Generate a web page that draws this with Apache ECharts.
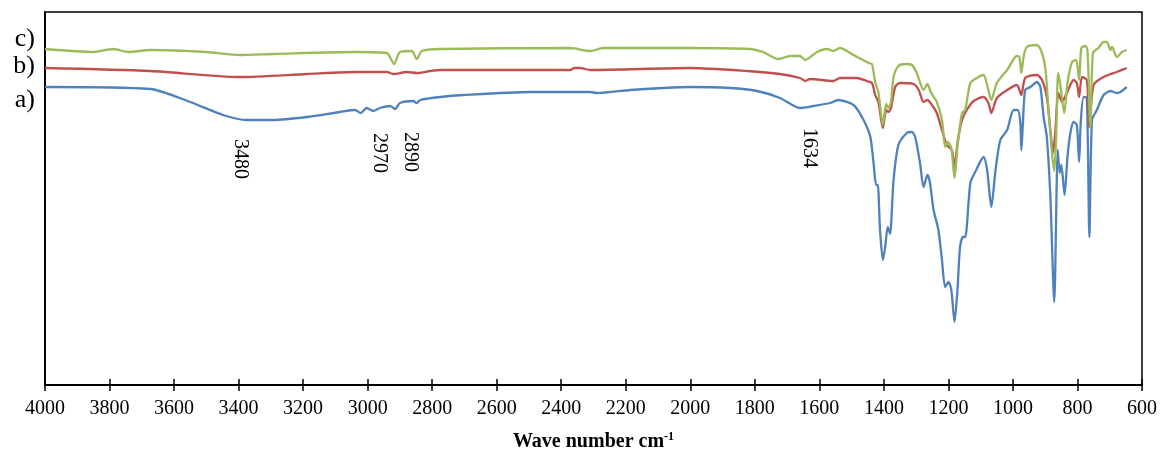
<!DOCTYPE html>
<html>
<head>
<meta charset="utf-8">
<script src="https://cdn.jsdelivr.net/npm/echarts@6/dist/echarts.min.js"></script>
<style>
html,body{margin:0;padding:0;background:#fff;}
#chart{width:1162px;height:457px;}
</style>
</head>
<body>
<div id="chart"></div>
<script>
// Wavenumber axis ticks
const xTicks = {min: 600, max: 4000, interval: 200};

// Series a) (blue) — [wavenumber, transmittance a.u.]
const seriesA = [
[4000,298],[3674,296],[3550,283],[3448,270],[3374,265],[3293,265],[3188,268],[3086,273],[3039,275],[3021,272],
[3003,277],[2982,274],[2962,277],[2930,279],[2915,276],[2900,282],[2859,284],[2848,282],[2837,285],[2775,288],
[2704,290],[2496,293],[2310,293],[2289,292],[2186,295],[2084,297],[2000,298],[1876,297],[1793,294],[1722,287],
[1660,277],[1619,279],[1567,282],[1542,285],[1494,280],[1463,265],[1442,248],[1432,222],[1424,200],[1419,200],
[1412,155],[1403,125],[1396,138],[1388,158],[1381,151],[1370,205],[1355,240],[1329,252],[1313,253],[1303,248],
[1288,222],[1277,198],[1265,210],[1257,202],[1246,175],[1231,155],[1220,125],[1210,98],[1200,103],[1191,95],
[1181,63],[1172,95],[1164,138],[1155,148],[1148,148],[1132,202],[1117,213],[1091,228],[1080,215],[1067,178],
[1054,215],[1039,245],[1018,255],[998,275],[985,275],[977,262],[974,235],[969,262],[962,295],[946,298],
[926,303],[915,298],[905,268],[895,248],[884,188],[872,83],[861,235],[855,212],[850,220],[840,190],
[831,228],[822,252],[812,263],[802,260],[795,223],[790,262],[781,288],[771,287],[763,148],[755,265],
[740,275],[719,290],[698,294],[678,292],[667,293],[647,298]
];

// Series b) (red)
const seriesB = [
[4000,317],[3674,314],[3396,308],[3188,311],[3033,313],[2940,313],[2921,311],[2878,313],[2847,312],[2806,314],
[2775,315],[2372,315],[2360,317],[2341,317],[2310,315],[2000,317],[1824,314],[1722,311],[1660,307],[1644,304],
[1629,306],[1557,304],[1536,307],[1484,307],[1453,304],[1437,302],[1427,290],[1417,283],[1403,257],[1393,275],
[1386,273],[1378,277],[1365,298],[1350,302],[1308,301],[1292,295],[1277,283],[1265,285],[1251,280],[1236,272],
[1220,255],[1205,240],[1189,235],[1181,217],[1172,242],[1158,265],[1143,275],[1122,284],[1091,288],[1076,282],
[1067,272],[1050,287],[1018,295],[988,300],[974,290],[962,307],[926,310],[910,305],[895,288],[884,255],
[876,232],[869,252],[859,292],[848,283],[833,292],[812,305],[802,302],[795,288],[786,308],[771,305],
[763,258],[750,300],[719,308],[678,313],[647,317]
];

// Series c) (green)
const seriesC = [
[4000,336],[3850,333],[3788,336],[3742,333],[3674,335],[3499,333],[3396,330],[3293,331],[3034,333],[2941,332],
[2918,321],[2900,333],[2863,334],[2848,326],[2832,334],[2775,336],[2372,337],[2310,334],[2270,337],[2000,337],
[1814,336],[1774,333],[1727,326],[1690,329],[1660,329],[1644,325],[1607,333],[1576,336],[1557,334],[1536,337],
[1494,330],[1447,322],[1437,321],[1427,303],[1417,293],[1403,260],[1393,281],[1386,277],[1378,283],[1370,308],
[1355,319],[1333,321],[1313,320],[1298,312],[1277,295],[1265,301],[1255,293],[1236,283],[1220,265],[1210,238],
[1202,243],[1191,237],[1181,207],[1172,238],[1158,272],[1148,275],[1132,302],[1112,307],[1091,310],[1080,300],
[1067,285],[1050,302],[1018,315],[988,329],[980,328],[974,312],[967,328],[957,338],[926,340],[910,332],
[899,315],[889,272],[879,232],[872,214],[866,248],[860,312],[853,300],[841,272],[831,302],[817,323],
[804,325],[795,305],[788,337],[776,339],[769,335],[760,258],[752,332],[735,337],[719,343],[709,343],
[698,335],[693,338],[678,328],[662,333],[647,335]
];

const seriesLabels = ['a)', 'b)', 'c)'];
const peakLabels = ['3480', '2970', '2890', '1634'];

const SERIF = '"Liberation Serif","Times New Roman",serif';
const chart = echarts.init(document.getElementById('chart'));

function baseX(extra) {
  return Object.assign({
    type: 'value', inverse: true,
    min: xTicks.min, max: xTicks.max, interval: xTicks.interval,
    position: 'bottom',
    splitLine: {show: false}
  }, extra);
}

chart.setOption({
  animation: false,
  grid: {left: 45, right: 20, top: 12, bottom: 72, show: true, borderColor: '#000', borderWidth: 1.5, backgroundColor: 'transparent'},
  xAxis: [
    baseX({
      axisLine: {show: true, lineStyle: {color: '#000', width: 2}},
      axisTick: {show: false},
      axisLabel: {margin: 14, color: '#000', fontFamily: SERIF, fontSize: 20, formatter: function (v) { return String(v); }},
      name: '{t|Wave number cm}{s|-1}',
      nameLocation: 'middle',
      nameGap: 46,
      nameTextStyle: {
        rich: {
          t: {fontFamily: SERIF, fontSize: 20, fontWeight: 'bold', color: '#000', lineHeight: 22},
          s: {fontFamily: SERIF, fontSize: 12, fontWeight: 'bold', color: '#000', verticalAlign: 'top', lineHeight: 22}
        }
      }
    }),
    baseX({
      offset: -6,
      axisLine: {show: false},
      axisTick: {show: true, inside: false, length: 12, lineStyle: {color: '#000', width: 1.5}},
      axisLabel: {show: false}
    })
  ],
  yAxis: {
    type: 'value', min: 0, max: 373,
    axisLine: {show: true, lineStyle: {color: '#000', width: 2}},
    axisTick: {show: false}, axisLabel: {show: false}, splitLine: {show: false}
  },
  series: [
    {name: 'a)', type: 'line', data: seriesA, showSymbol: false, smooth: 0.25, lineStyle: {color: '#4F81BD', width: 2.3}, itemStyle: {color: '#4F81BD'}},
    {name: 'b)', type: 'line', data: seriesB, showSymbol: false, smooth: 0.25, lineStyle: {color: '#C0504D', width: 2.3}, itemStyle: {color: '#C0504D'}},
    {name: 'c)', type: 'line', data: seriesC, showSymbol: false, smooth: 0.25, lineStyle: {color: '#9BBB59', width: 2.3}, itemStyle: {color: '#9BBB59'}}
  ],
  graphic: [
    {type: 'text', x: 35, y: 39, style: {text: seriesLabels[2], fontFamily: SERIF, fontSize: 26, fill: '#000', align: 'right', verticalAlign: 'middle'}},
    {type: 'text', x: 35, y: 66, style: {text: seriesLabels[1], fontFamily: SERIF, fontSize: 26, fill: '#000', align: 'right', verticalAlign: 'middle'}},
    {type: 'text', x: 35, y: 100, style: {text: seriesLabels[0], fontFamily: SERIF, fontSize: 26, fill: '#000', align: 'right', verticalAlign: 'middle'}},
    {type: 'text', x: 240, y: 159, rotation: -Math.PI/2, style: {text: peakLabels[0], fontFamily: SERIF, fontSize: 20, fill: '#000', align: 'center', verticalAlign: 'middle'}},
    {type: 'text', x: 379, y: 153, rotation: -Math.PI/2, style: {text: peakLabels[1], fontFamily: SERIF, fontSize: 20, fill: '#000', align: 'center', verticalAlign: 'middle'}},
    {type: 'text', x: 410, y: 152, rotation: -Math.PI/2, style: {text: peakLabels[2], fontFamily: SERIF, fontSize: 20, fill: '#000', align: 'center', verticalAlign: 'middle'}},
    {type: 'text', x: 809, y: 148, rotation: -Math.PI/2, style: {text: peakLabels[3], fontFamily: SERIF, fontSize: 20, fill: '#000', align: 'center', verticalAlign: 'middle'}}
  ]
});
</script>
</body>
</html>
